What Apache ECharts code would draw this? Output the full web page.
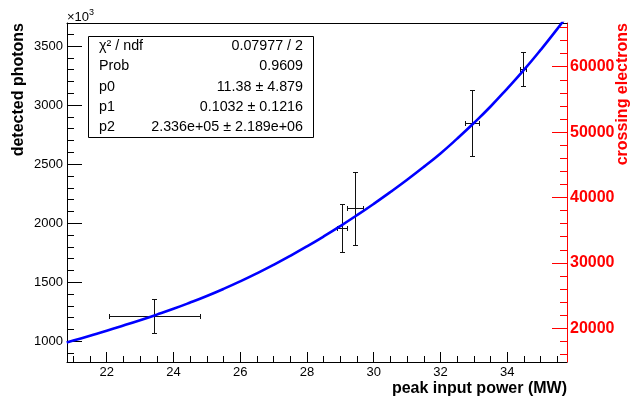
<!DOCTYPE html>
<html>
<head>
<meta charset="utf-8">
<script src="https://cdn.jsdelivr.net/npm/echarts@6/dist/echarts.min.js"></script>
<style>html,body{margin:0;padding:0;background:#fff}#c{width:635px;height:397px}</style>
</head>
<body>
<div id="c"></div>
<script>
// ---- data ----
const pointsX = [23.43, 29.05, 29.43, 32.94, 34.47];
const pointsY = [1214, 1957, 2126, 2846, 3305];
const errX    = [1.35, 0.16, 0.245, 0.22, 0.085];
const errY    = [147, 202, 310, 280, 145];

const curveX = [20.8, 21.0, 21.5, 22.0, 22.5, 23.0, 23.5, 24.0, 24.5, 25.0, 25.5, 26.0, 26.5, 27.0, 27.5, 28.0, 28.5, 29.0, 29.5, 30.0, 30.5, 31.0, 31.5, 32.0, 32.5, 33.0, 33.5, 34.0, 34.5, 35.0, 35.5, 35.8];
const curveY = [990, 1006, 1048, 1090, 1134, 1179, 1226, 1275, 1328, 1384, 1444, 1508, 1576, 1648, 1724, 1804, 1888, 1976, 2068, 2164, 2264, 2368, 2477, 2591, 2716, 2848, 2988, 3140, 3298, 3467, 3645, 3760];

const xMajor = [22, 24, 26, 28, 30, 32, 34];
const xMinor = [21, 21.5, 22.5, 23, 23.5, 24.5, 25, 25.5, 26.5, 27, 27.5, 28.5, 29, 29.5, 30.5, 31, 31.5, 32.5, 33, 33.5, 34.5, 35, 35.5];
const yLeftMajor = [1000, 1500, 2000, 2500, 3000, 3500];
const yLeftMinor = [900, 1100, 1200, 1300, 1400, 1600, 1700, 1800, 1900, 2100, 2200, 2300, 2400, 2600, 2700, 2800, 2900, 3100, 3200, 3300, 3400, 3600];
const yRightMajor = [20000, 30000, 40000, 50000, 60000];
const yRightMinor = [16000, 18000, 22000, 24000, 26000, 28000, 32000, 34000, 36000, 38000, 42000, 44000, 46000, 48000, 52000, 54000, 56000, 58000, 62000, 64000, 66000];

const statNames  = ['χ² / ndf', 'Prob', 'p0', 'p1', 'p2'];
const statValues = ['0.07977 / 2', '0.9609', '11.38 ± 4.879', '0.1032 ± 0.1216', '2.336e+05 ± 2.189e+06'];

// ---- layout ----
const FONT = "'Liberation Sans', Arial, Helvetica, sans-serif";
const X_MIN = 20.81, X_MAX = 35.79;
const YL_MIN = 825, YL_MAX = 3695;
const YR_MIN = 14847, YR_MAX = 66682;

const chart = echarts.init(document.getElementById('c'), null, {renderer: 'canvas'});
const noLine = {show: false};
const noLabel = {show: false};
const plain = v => String(v);

function errRender(params, api) {
  const x = api.value(0), y = api.value(1), ex = api.value(2), ey = api.value(3);
  const c = api.coord([x, y]);
  const l = api.coord([x - ex, y]);
  const r = api.coord([x + ex, y]);
  const t = api.coord([x, y + ey]);
  const b = api.coord([x, y - ey]);
  const cx = Math.round(c[0]) + 0.5, cy = Math.round(c[1]) + 0.5;
  const lx = Math.round(l[0]) + 0.5, rx = Math.round(r[0]) + 0.5;
  const ty = Math.round(t[1]) + 0.5, by = Math.round(b[1]) + 0.5;
  const st = {stroke: '#111', lineWidth: 1};
  const seg = (x1, y1, x2, y2) => ({type: 'line', shape: {x1, y1, x2, y2}, style: st});
  return {
    type: 'group',
    children: [
      seg(lx, cy, rx, cy),
      seg(lx, cy - 2.5, lx, cy + 2.5),
      seg(rx, cy - 2.5, rx, cy + 2.5),
      seg(cx, ty, cx, by),
      seg(cx - 2.5, ty, cx + 2.5, ty),
      seg(cx - 2.5, by, cx + 2.5, by)
    ]
  };
}

const statGraphics = [];
statGraphics.push({type: 'rect', shape: {x: 88.5, y: 36.5, width: 225, height: 101}, style: {fill: '#fff', stroke: '#000', lineWidth: 1}, z: 10});
statNames.forEach((n, i) => {
  statGraphics.push({type: 'text', x: 99, y: 46 + i * 20.3, z: 11,
    style: {text: n, fill: '#000', font: '14.3px ' + FONT, align: 'left', verticalAlign: 'middle'}});
  statGraphics.push({type: 'text', x: 303, y: 46 + i * 20.3, z: 11,
    style: {text: statValues[i], fill: '#000', font: '14.3px ' + FONT, align: 'right', verticalAlign: 'middle'}});
});

const option = {
  animation: false,
  backgroundColor: '#fff',
  grid: {left: 67, right: 68, top: 23, bottom: 35, containLabel: false},
  xAxis: [
    {type: 'value', min: X_MIN, max: X_MAX, position: 'bottom',
      axisLine: {show: true, lineStyle: {color: '#000', width: 1}},
      axisTick: {show: true, inside: true, length: 10, customValues: xMajor, lineStyle: {color: '#000'}},
      axisLabel: {show: true, customValues: xMajor, formatter: plain, color: '#000', fontSize: 13, fontFamily: FONT, margin: 4},
      splitLine: {show: false}},
    {type: 'value', min: X_MIN, max: X_MAX, position: 'bottom',
      axisLine: noLine,
      axisTick: {show: true, inside: true, length: 6, customValues: xMinor, lineStyle: {color: '#000'}},
      axisLabel: noLabel, splitLine: {show: false}},
    {type: 'value', min: X_MIN, max: X_MAX, position: 'top',
      axisLine: {show: true, lineStyle: {color: '#000', width: 1}},
      axisTick: {show: false}, axisLabel: noLabel, splitLine: {show: false}}
  ],
  yAxis: [
    {type: 'value', min: YL_MIN, max: YL_MAX, position: 'left',
      axisLine: {show: true, lineStyle: {color: '#000', width: 1}},
      axisTick: {show: true, inside: true, length: 15, customValues: yLeftMajor, lineStyle: {color: '#000'}},
      axisLabel: {show: true, customValues: yLeftMajor, formatter: plain, color: '#000', fontSize: 13, fontFamily: FONT, margin: 4},
      splitLine: {show: false}},
    {type: 'value', min: YL_MIN, max: YL_MAX, position: 'left',
      axisLine: noLine,
      axisTick: {show: true, inside: true, length: 7, customValues: yLeftMinor, lineStyle: {color: '#000'}},
      axisLabel: noLabel, splitLine: {show: false}},
    {type: 'value', min: YR_MIN, max: YR_MAX, position: 'right',
      axisLine: {show: true, lineStyle: {color: '#ff0000', width: 1}},
      axisTick: {show: true, inside: true, length: 15, customValues: yRightMajor, lineStyle: {color: '#ff0000'}},
      axisLabel: {show: true, customValues: yRightMajor, formatter: plain, color: '#ff0000', fontSize: 16, fontWeight: 'bold', fontFamily: FONT, margin: 3},
      splitLine: {show: false}},
    {type: 'value', min: YR_MIN, max: YR_MAX, position: 'right',
      axisLine: noLine,
      axisTick: {show: true, inside: true, length: 7, customValues: yRightMinor, lineStyle: {color: '#ff0000'}},
      axisLabel: noLabel, splitLine: {show: false}}
  ],
  series: [
    {type: 'custom', xAxisIndex: 0, yAxisIndex: 0, renderItem: errRender, z: 3,
      data: pointsX.map((x, i) => [x, pointsY[i], errX[i], errY[i]])},
    {type: 'line', xAxisIndex: 0, yAxisIndex: 0, smooth: 0.5, showSymbol: false, symbol: 'none', z: 5,
      clip: true,
      lineStyle: {color: '#0000ff', width: 2.6},
      data: curveX.map((x, i) => [x, curveY[i]])}
  ],
  graphic: [
    {type: 'text', x: 19, y: 23, rotation: Math.PI / 2,
      style: {text: 'detected photons', fill: '#000', font: 'bold 16px ' + FONT, align: 'right', verticalAlign: 'middle'}},
    {type: 'text', x: 623, y: 23, rotation: Math.PI / 2,
      style: {text: 'crossing electrons', fill: '#ff0000', font: 'bold 16px ' + FONT, align: 'right', verticalAlign: 'middle'}},
    {type: 'text', x: 567, y: 389,
      style: {text: 'peak input power (MW)', fill: '#000', font: 'bold 16px ' + FONT, align: 'right', verticalAlign: 'middle'}},
    {type: 'text', x: 67, y: 17.5,
      style: {text: '×10', fill: '#000', font: '13px ' + FONT, align: 'left', verticalAlign: 'middle'}},
    {type: 'text', x: 89, y: 12.5,
      style: {text: '3', fill: '#000', font: '9px ' + FONT, align: 'left', verticalAlign: 'middle'}}
  ].concat(statGraphics)
};
chart.setOption(option);
</script>
</body>
</html>
